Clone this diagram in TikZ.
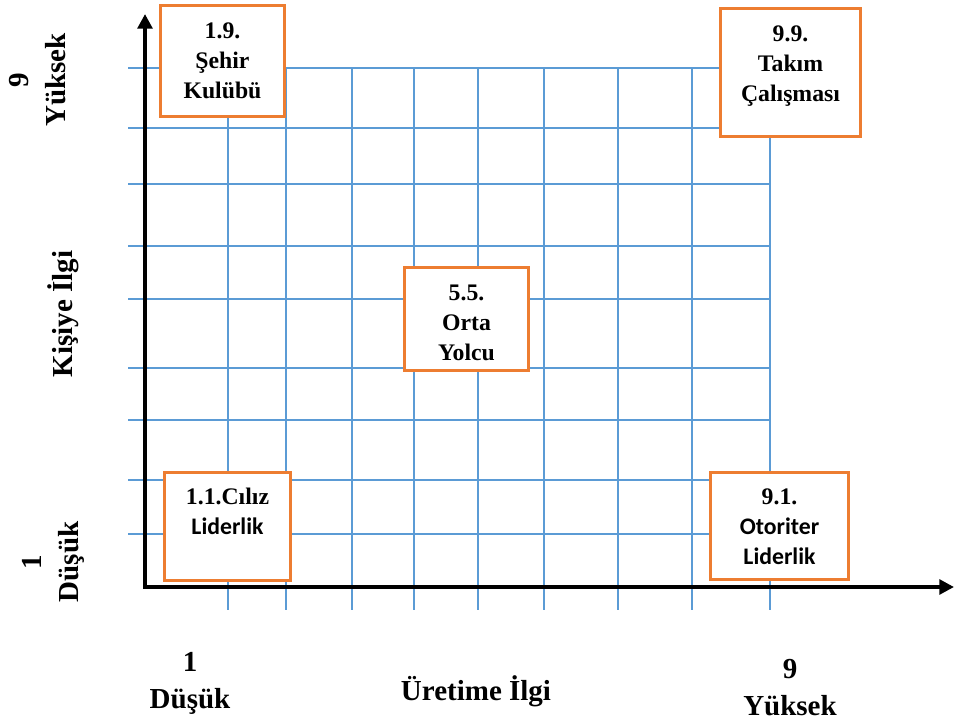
\documentclass[tikz,border=0pt]{standalone}
\usepackage{fontspec}
\setmainfont{Liberation Serif}
\newfontfamily\calfont{Carlito}
\usetikzlibrary{arrows.meta}
\definecolor{gridblue}{HTML}{5B9BD5}
\definecolor{boxorange}{HTML}{ED7D31}
\newcommand{\boxtext}[3]{\parbox[c][#2][t]{#1}{\centering\rule{0pt}{24.4pt}#3\par}}

\begin{document}
\begin{tikzpicture}[x=0.75pt,y=0.75pt,
  gridline/.style={gridblue,line width=0.9pt},
  axisline/.style={line width=3pt,{Triangle[length=11pt,width=11pt]}-{Triangle[length=11pt,width=11pt]}},
  gridbox/.style={draw=boxorange,line width=2.25pt,fill=white,inner sep=0pt,anchor=north,
    font=\bfseries\fontsize{17.8}{22.5}\selectfont},
  axislabel/.style={font=\bfseries\fontsize{21.75}{27.75}\selectfont,align=center}]
\useasboundingbox (0,0) rectangle (955,722);
% grid
\foreach \y in {654,594,538,476,423,354,302,242,188}
  \draw[gridline] (128,\y) -- (770,\y);
\foreach \x in {228,286,352,414,478,544,618,692,770}
  \draw[gridline] (\x,654) -- (\x,112);
% axes
\coordinate (origin) at (145,135);
\coordinate (ytop) at (145,708);
\coordinate (xend) at (954,135);
\draw[axisline] (ytop) -- (origin) -- (xend);
% styles
\node[gridbox] (sehir) at (222.5,717.5) {\boxtext{93pt}{83.25pt}{1.9.\\Şehir\\Kulübü}};
\node[gridbox] (takim) at (790.5,714.5) {\boxtext{105pt}{96pt}{9.9.\\Takım\\Çalışması}};
\node[gridbox] (orta) at (466.5,455.5) {\boxtext{93pt}{76.5pt}{5.5.\\Orta\\Yolcu}};
\node[gridbox] (ciliz) at (227.5,251.5) {\boxtext{94.5pt}{81pt}{1.1.Cılız\\{\calfont Liderlik}}};
\node[gridbox] (otoriter) at (779.5,251.5) {\boxtext{103.5pt}{80.25pt}{9.1.\\{\calfont Otoriter\\Liderlik}}};
% labels
\node[axislabel,rotate=90] (ytoplabel) at (38,642) {9\\Yüksek};
\node[axislabel,rotate=90] (ylowlabel) at (53,160) {1\\Düşük};
\node[axislabel,rotate=90,anchor=base] (ytitle) at (72,408) {Kişiye İlgi};
\node[axislabel] (xlowlabel) at (190,39) {1\\Düşük};
\node[axislabel] (xtoplabel) at (790,34) {9\\Yüksek};
\node[axislabel,anchor=base] (xtitle) at (476,22) {Üretime İlgi};
\end{tikzpicture}
\end{document}
